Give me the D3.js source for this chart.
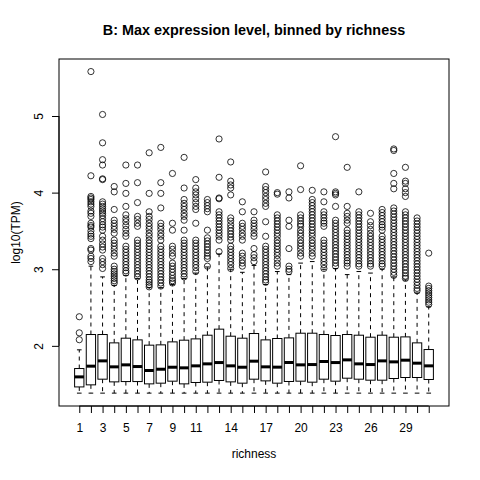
<!DOCTYPE html>
<html><head><meta charset="utf-8">
<script src="https://cdn.jsdelivr.net/npm/d3@7"></script>
<style>body{margin:0;background:#fff}svg{display:block}text{font-family:"Liberation Sans",Arial,Helvetica,sans-serif}</style>
</head><body>
<script>
const categories = [1,2,3,4,5,6,7,8,9,10,11,12,13,14,15,16,17,18,19,20,21,22,23,24,25,26,27,28,29,30,31];
const xTickLabels = [1,3,5,7,9,11,14,17,20,23,26,29];
const yTicks = [2,3,4,5];
const lowerWhisker = [1.383,1.383,1.383,1.383,1.383,1.383,1.383,1.383,1.383,1.383,1.383,1.383,1.383,1.383,1.383,1.383,1.383,1.383,1.383,1.383,1.383,1.383,1.383,1.383,1.383,1.383,1.383,1.383,1.383,1.383,1.383];
const q1 = [1.464,1.491,1.565,1.530,1.534,1.534,1.504,1.513,1.539,1.504,1.522,1.526,1.548,1.530,1.513,1.565,1.543,1.513,1.535,1.539,1.526,1.565,1.539,1.578,1.565,1.552,1.552,1.574,1.587,1.587,1.561];
const median = [1.595,1.735,1.804,1.726,1.752,1.730,1.678,1.695,1.721,1.713,1.739,1.765,1.782,1.739,1.721,1.800,1.726,1.722,1.783,1.752,1.756,1.796,1.782,1.817,1.765,1.756,1.804,1.791,1.813,1.774,1.739];
const q3 = [1.704,2.148,2.148,2.039,2.100,2.078,2.009,2.013,2.052,2.074,2.091,2.139,2.218,2.126,2.100,2.161,2.078,2.096,2.104,2.165,2.165,2.148,2.135,2.148,2.139,2.113,2.139,2.113,2.117,2.039,1.952];
const upperWhisker = [1.948,3.04,2.90,2.79,2.92,2.88,2.76,2.76,2.80,2.88,2.95,3.03,3.20,3.00,2.96,3.05,2.80,2.97,2.93,3.08,3.10,3.00,3.01,2.93,2.97,2.95,3.00,2.90,2.86,2.69,2.51];
const outliers = [
 [2.38,2.17,2.08],
 [5.58,4.22,3.95,3.93,3.91,3.88,3.85,3.82,3.76,3.73,3.69,3.60,3.57,3.55,3.50,3.46,3.43,3.40,3.27,3.25,3.17,3.14,3.10],
 [5.02,4.65,4.43,4.36,4.18,4.17,3.88,3.85,3.82,3.79,3.76,3.73,3.70,3.66,3.62,3.58,3.55,3.51,3.43,3.38,3.33,3.29,3.25,3.14,3.10,3.06,3.01],
 [4.08,4.01,3.78,3.64,3.60,3.56,3.52,3.47,3.38,3.34,3.30,3.26,3.21,3.17,3.04,3.00,2.97,2.94,2.91,2.88,2.85,2.82],
 [4.36,4.12,3.99,3.82,3.71,3.66,3.62,3.57,3.52,3.47,3.43,3.30,3.26,3.22,3.18,3.14,3.10,3.06,3.02,2.98,2.95],
 [4.36,4.13,3.87,3.69,3.65,3.60,3.56,3.38,3.34,3.30,3.26,3.22,3.18,3.14,3.10,3.06,3.02,2.98,2.94,2.90],
 [4.52,3.99,3.75,3.69,3.65,3.60,3.56,3.52,3.47,3.43,3.38,3.34,3.30,3.26,3.22,3.18,3.14,3.10,3.06,3.02,2.98,2.94,2.90,2.86,2.83,2.80,2.77],
 [4.59,4.13,3.99,3.80,3.60,3.56,3.52,3.47,3.43,3.38,3.30,3.26,3.22,3.18,3.14,3.10,3.06,3.02,2.98,2.94,2.90,2.86,2.82,2.78],
 [4.25,3.60,3.51,3.30,3.26,3.21,3.17,3.08,3.04,3.00,2.96,2.92,2.88,2.85,2.82],
 [4.46,4.06,3.91,3.86,3.82,3.78,3.73,3.69,3.64,3.51,3.38,3.34,3.30,3.26,3.22,3.18,3.14,3.10,3.06,3.02,2.98,2.94,2.90],
 [4.17,4.06,4.01,3.97,3.92,3.87,3.82,3.78,3.60,3.38,3.34,3.30,3.26,3.22,3.18,3.14,3.10,3.06,3.02,2.97],
 [3.91,3.87,3.83,3.79,3.75,3.51,3.41,3.37,3.33,3.29,3.25,3.21,3.17,3.14,3.04],
 [4.70,4.20,3.93,3.92,3.75,3.71,3.67,3.63,3.59,3.55,3.51,3.47,3.43,3.38,3.23],
 [4.40,4.15,4.10,4.06,3.97,3.67,3.63,3.58,3.54,3.50,3.46,3.42,3.38,3.30,3.26,3.22,3.18,3.14,3.10,3.06,3.01],
 [3.88,3.75,3.60,3.56,3.52,3.47,3.43,3.38,3.21,3.17,3.12,3.08,3.04],
 [3.75,3.64,3.60,3.56,3.52,3.47,3.43,3.27,3.19,3.15,3.10],
 [4.27,4.08,4.04,4.00,3.95,3.91,3.86,3.82,3.62,3.43,3.30,3.26,3.22,3.18,3.14,3.10,3.06,3.02,2.98,2.94,2.90,2.86,2.83],
 [4.00,3.98,3.71,3.67,3.63,3.59,3.55,3.51,3.47,3.43,3.38,3.34,3.30,3.26,3.22,3.18,3.13,3.08,3.04],
 [4.01,3.93,3.64,3.56,3.27,3.04,3.00,2.97],
 [4.35,4.04,3.71,3.67,3.63,3.59,3.56,3.51,3.47,3.43,3.38,3.34,3.30,3.26,3.21,3.17],
 [4.03,3.91,3.87,3.83,3.79,3.75,3.71,3.67,3.63,3.59,3.55,3.51,3.47,3.43,3.38,3.34,3.30,3.26,3.21,3.17],
 [4.01,3.88,3.75,3.71,3.67,3.63,3.60,3.56,3.38,3.34,3.30,3.26,3.22,3.18,3.14,3.10,3.06,3.01],
 [4.73,4.01,3.99,3.97,3.82,3.64,3.60,3.56,3.52,3.48,3.44,3.40,3.36,3.32,3.28,3.24,3.20,3.16,3.12,3.08,3.04],
 [4.33,3.82,3.73,3.69,3.64,3.60,3.51,3.47,3.43,3.39,3.35,3.31,3.27,3.23,3.19,3.15,3.11,3.08,3.04],
 [4.01,3.75,3.71,3.67,3.63,3.59,3.55,3.51,3.47,3.43,3.39,3.35,3.31,3.27,3.23,3.19,3.15,3.11,3.07,3.04],
 [3.73,3.62,3.57,3.52,3.47,3.43,3.39,3.35,3.31,3.27,3.23,3.19,3.15,3.11,3.07,3.04],
 [3.78,3.74,3.70,3.66,3.62,3.58,3.55,3.51,3.43,3.39,3.35,3.31,3.27,3.23,3.19,3.15,3.11,3.07,3.04],
 [4.57,4.55,4.25,4.12,4.05,3.80,3.76,3.72,3.68,3.64,3.60,3.56,3.52,3.48,3.44,3.40,3.36,3.32,3.28,3.24,3.20,3.16,3.12,3.08,3.04,3.00,2.96,2.92],
 [4.33,4.15,4.12,4.05,4.00,3.95,3.75,3.71,3.67,3.63,3.59,3.55,3.51,3.47,3.43,3.39,3.35,3.31,3.27,3.23,3.19,3.15,3.11,3.07,3.03,2.99,2.95,2.91,2.88],
 [3.67,3.63,3.59,3.55,3.51,3.47,3.43,3.39,3.35,3.31,3.27,3.23,3.19,3.15,3.11,3.07,3.03,2.99,2.95,2.91,2.87,2.83,2.79,2.75,2.72],
 [3.21,2.78,2.75,2.72,2.69,2.66,2.63,2.60,2.57,2.54]
];
const title = "B: Max expression level, binned by richness";
const xLabel = "richness";
const yLabel = "log10(TPM)";

const W = 480, H = 480;
const L = 59, R = 449, T = 59, B = 406;
const svg = d3.select("body").append("svg").attr("width", W).attr("height", H);

const x = d3.scaleLinear().domain([-0.74, 32.74]).range([L, R]);
const y = d3.scaleLinear().domain([1.215, 5.744]).range([B, T]);
const bw = (x(1) - x(0)) * 0.8;
const cw = bw * 0.5;

const data = categories.map((c, i) => ({c, lo: lowerWhisker[i], q1: q1[i], med: median[i], q3: q3[i], hi: upperWhisker[i], out: outliers[i]}));

const g = svg.append("g");
const box = g.selectAll("g.b").data(data).join("g").attr("class", "b");
box.append("line").attr("x1", d => x(d.c)).attr("x2", d => x(d.c)).attr("y1", d => y(d.q3)).attr("y2", d => y(d.hi))
  .attr("stroke", "#000").attr("stroke-dasharray", "4,4");
box.append("line").attr("x1", d => x(d.c)).attr("x2", d => x(d.c)).attr("y1", d => y(d.q1)).attr("y2", d => y(d.lo))
  .attr("stroke", "#000").attr("stroke-dasharray", "4,4");
box.append("line").attr("x1", d => x(d.c) - cw/2).attr("x2", d => x(d.c) + cw/2).attr("y1", d => y(d.hi)).attr("y2", d => y(d.hi)).attr("stroke", "#000");
box.append("line").attr("x1", d => x(d.c) - cw/2).attr("x2", d => x(d.c) + cw/2).attr("y1", d => y(d.lo)).attr("y2", d => y(d.lo)).attr("stroke", "#000");
box.append("rect").attr("x", d => x(d.c) - bw/2).attr("width", bw).attr("y", d => y(d.q3)).attr("height", d => y(d.q1) - y(d.q3))
  .attr("fill", "#fff").attr("stroke", "#000").attr("stroke-width", 1);
box.append("line").attr("x1", d => x(d.c) - bw/2).attr("x2", d => x(d.c) + bw/2).attr("y1", d => y(d.med)).attr("y2", d => y(d.med))
  .attr("stroke", "#000").attr("stroke-width", 3);
box.selectAll("circle").data(d => d.out.map(v => ({c: d.c, v}))).join("circle")
  .attr("cx", d => x(d.c)).attr("cy", d => y(d.v)).attr("r", 3.1)
  .attr("fill", "none").attr("stroke", "#000").attr("stroke-width", 0.8);

svg.append("rect").attr("x", L).attr("y", T).attr("width", R - L).attr("height", B - T).attr("fill", "none").attr("stroke", "#000").attr("stroke-width", 1);

const xa = svg.append("g").attr("transform", `translate(0,${B})`)
  .call(d3.axisBottom(x).tickValues(categories).tickSize(7).tickPadding(10).tickFormat(d => xTickLabels.includes(d) ? d : ""));
xa.select(".domain").remove();
xa.append("line").attr("x1", x(categories[0])).attr("x2", x(categories[categories.length-1])).attr("stroke", "#000");
xa.selectAll("text").attr("font-size", 12).attr("fill", "#000").style("font-family", '"Liberation Sans",Arial,sans-serif');

const ya = svg.append("g").attr("transform", `translate(${L},0)`)
  .call(d3.axisLeft(y).tickValues(yTicks).tickSize(7).tickFormat(d3.format("d")));
ya.select(".domain").remove();
ya.append("line").attr("y1", y(yTicks[0])).attr("y2", y(yTicks[yTicks.length-1])).attr("stroke", "#000");
ya.selectAll(".tick text").attr("x", null).attr("dy", null).attr("text-anchor", "middle")
  .attr("transform", "translate(-16,0) rotate(-90)").attr("font-size", 12).attr("fill", "#000")
  .style("font-family", '"Liberation Sans",Arial,sans-serif');

svg.append("text").attr("x", (L + R) / 2).attr("y", 35).attr("text-anchor", "middle")
  .attr("font-size", 14.4).attr("font-weight", "bold").text(title);
svg.append("text").attr("x", (L + R) / 2).attr("y", 458).attr("text-anchor", "middle").attr("font-size", 12).text(xLabel);
svg.append("text").attr("transform", `translate(20,${(T + B) / 2}) rotate(-90)`).attr("text-anchor", "middle").attr("font-size", 12).text(yLabel);
</script>
</body></html>
